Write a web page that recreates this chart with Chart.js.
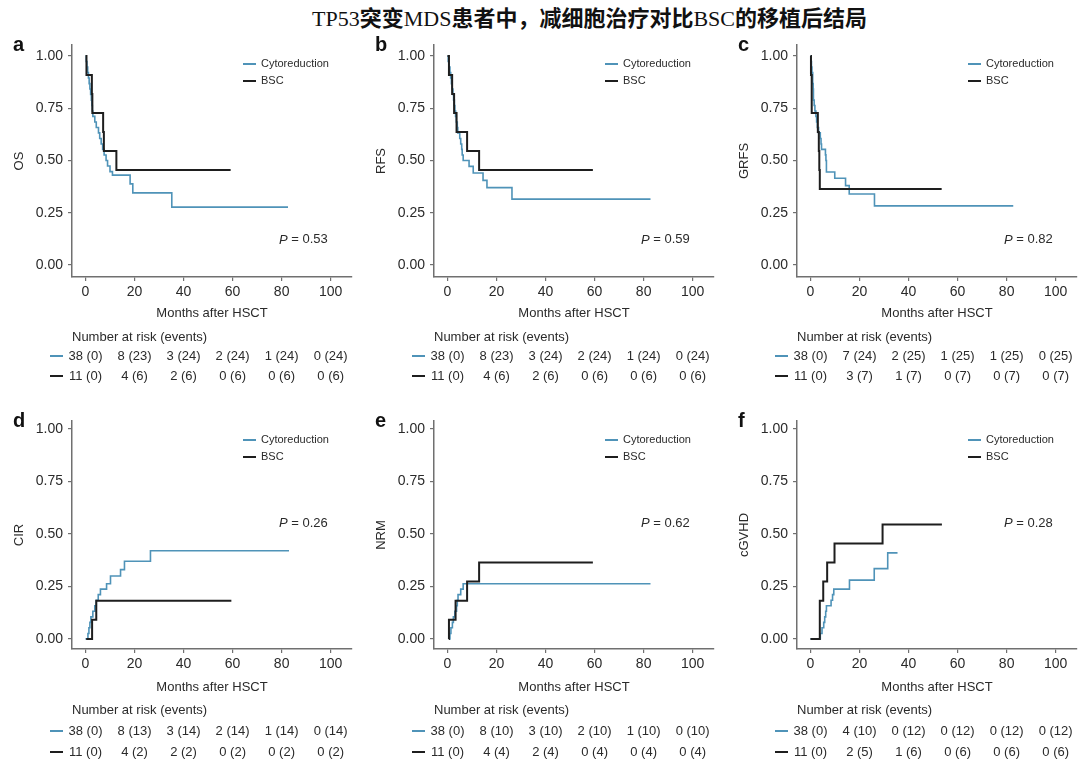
<!DOCTYPE html>
<html><head><meta charset="utf-8">
<script src="https://cdn.jsdelivr.net/npm/chart.js@4.4.1/dist/chart.umd.min.js"></script>
<style>
html,body{margin:0;padding:0;background:#fff;width:1080px;height:765px;overflow:hidden;position:relative}
canvas{position:absolute}
#title{position:absolute;left:312px;top:1px;white-space:nowrap;color:#111;font-family:"Noto Sans CJK SC","Liberation Serif";font-size:22px;font-weight:bold;line-height:30px}
#title .lat{font-family:"Liberation Serif";font-weight:normal}
</style></head><body>
<div id="title"><span class="lat">TP53</span>突变<span class="lat">MDS</span>患者中，减细胞治疗对比<span class="lat">BSC</span>的移植后结局</div>
<canvas id="pa" width="360" height="360" style="left:0px;top:30px"></canvas>
<canvas id="pb" width="360" height="360" style="left:362px;top:30px"></canvas>
<canvas id="pc" width="355" height="360" style="left:725px;top:30px"></canvas>
<canvas id="pd" width="360" height="365" style="left:0px;top:400px"></canvas>
<canvas id="pe" width="360" height="365" style="left:362px;top:400px"></canvas>
<canvas id="pf" width="355" height="365" style="left:725px;top:400px"></canvas>
<script>
// ---------- DATA ----------
const groups = ['Cytoreduction', 'BSC'];
const xTicks = [0, 20, 40, 60, 80, 100];
const yTicks = [0, 0.25, 0.5, 0.75, 1];

// a: OS
const osCytoT = [0,0.3,0.6,0.9,1.2,1.5,1.8,2.1,2.4,2.6,2.8,3.0,3.8,4.4,5.3,5.8,6.4,7.0,7.6,8.4,9.0,10.0,11.0,18.2,19.3,35.2,82.6];
const osCytoS = [1,.974,.947,.921,.895,.868,.842,.816,.789,.763,.737,.711,.684,.658,.632,.605,.579,.553,.526,.500,.474,.447,.430,.388,.345,.277,.277];
const osBscT = [0,0.4,2.6,2.8,7.2,7.5,12.6,59.2];
const osBscS = [1,.909,.818,.727,.636,.545,.4545,.4545];
const osRiskCytoN = [38,8,3,2,1,0], osRiskCytoE = [0,23,24,24,24,24];
const osRiskBscN = [11,4,2,0,0,0], osRiskBscE = [0,6,6,6,6,6];

// b: RFS
const rfsCytoT = [0,0.3,0.6,1.0,1.3,1.6,1.9,2.2,2.5,2.8,3.0,3.3,3.6,4.0,4.2,5.0,5.4,5.8,6.0,6.4,8.8,10.5,14.5,16.1,26.3,82.8];
const rfsCytoS = [1,.974,.947,.921,.895,.868,.842,.816,.789,.763,.737,.711,.684,.658,.632,.605,.579,.553,.526,.500,.472,.440,.405,.370,.315,.315];
const rfsBscT = [0,0.6,1.9,2.7,3.7,8.0,12.9,59.3];
const rfsBscS = [1,.909,.818,.727,.636,.545,.4545,.4545];
const rfsRiskCytoN = [38,8,3,2,1,0], rfsRiskCytoE = [0,23,24,24,24,24];
const rfsRiskBscN = [11,4,2,0,0,0], rfsRiskBscE = [0,6,6,6,6,6];

// c: GRFS
const grfsCytoT = [0,0.2,0.4,0.6,0.9,1.1,1.2,1.5,1.8,2.2,2.5,2.8,3.3,4.0,4.3,4.5,6.1,6.3,6.5,9.9,14.3,15.8,26.1,82.7];
const grfsCytoS = [1,.974,.947,.921,.868,.842,.789,.763,.737,.711,.684,.658,.632,.605,.579,.553,.527,.500,.445,.415,.380,.340,.283,.283];
const grfsBscT = [0,0.2,0.5,3.0,3.4,3.6,3.8,53.5];
const grfsBscS = [1,.909,.727,.636,.545,.4545,.364,.364];
const grfsRiskCytoN = [38,7,2,1,1,0], grfsRiskCytoE = [0,24,25,25,25,25];
const grfsRiskBscN = [11,3,1,0,0,0], grfsRiskBscE = [0,7,7,7,7,7];

// d: CIR
const cirCytoT = [0,1.0,1.4,1.8,2.2,3.0,3.8,4.4,5.2,6.1,8.6,10.2,14.3,15.9,26.5,83.0];
const cirCytoS = [0,.026,.053,.079,.105,.132,.158,.184,.211,.237,.263,.300,.330,.370,.420,.420];
const cirBscT = [0.3,2.7,4.4,59.5];
const cirBscS = [0,.091,.182,.182];
const cirRiskCytoN = [38,8,3,2,1,0], cirRiskCytoE = [0,13,14,14,14,14];
const cirRiskBscN = [11,4,2,0,0,0], cirRiskBscE = [0,2,2,2,2,2];

// e: NRM
const nrmCytoT = [0.7,1.0,1.4,2.0,2.4,3.0,3.7,4.0,4.3,5.4,6.4,82.8];
const nrmCytoS = [0,.026,.053,.079,.105,.132,.158,.184,.211,.237,.263,.263];
const nrmBscT = [0.5,0.6,3.3,8.0,12.9,59.3];
const nrmBscS = [0,.091,.182,.273,.364,.364];
const nrmRiskCytoN = [38,8,3,2,1,0], nrmRiskCytoE = [0,10,10,10,10,10];
const nrmRiskBscN = [11,4,2,0,0,0], nrmRiskBscE = [0,4,4,4,4,4];

// f: cGVHD
const gvhdCytoT = [0,4.0,4.7,5.4,5.8,6.2,6.5,8.4,9.0,9.5,15.9,26.0,31.5,35.5];
const gvhdCytoS = [0,.026,.053,.079,.105,.132,.158,.184,.211,.237,.280,.335,.410,.410];
const gvhdBscT = [0,3.8,5.2,6.8,9.8,29.4,53.6];
const gvhdBscS = [0,.182,.273,.364,.4545,.545,.545];
const gvhdRiskCytoN = [38,4,0,0,0,0], gvhdRiskCytoE = [0,10,12,12,12,12];
const gvhdRiskBscN = [11,2,1,0,0,0], gvhdRiskBscE = [0,5,6,6,6,6];

const pValues = ['0.53','0.59','0.82','0.26','0.62','0.28'];

// ---------- STYLE / LAYOUT ----------
const BLUE = '#4f93b8', BLACK = '#1e1e1e', AXIS = '#707070', TXT = '#2a2a2a';
const FAM = '"Liberation Sans", Arial, Helvetica, sans-serif';

const panels = [
  {id:'pa', letter:'a', ytitle:'OS',    ct:osCytoT,  cs:osCytoS,  bt:osBscT,  bs:osBscS,  rc:[osRiskCytoN,osRiskCytoE],  rb:[osRiskBscN,osRiskBscE],  p:pValues[0], row:0, pr:8},
  {id:'pb', letter:'b', ytitle:'RFS',   ct:rfsCytoT, cs:rfsCytoS, bt:rfsBscT, bs:rfsBscS, rc:[rfsRiskCytoN,rfsRiskCytoE],rb:[rfsRiskBscN,rfsRiskBscE],p:pValues[1], row:0, pr:8},
  {id:'pc', letter:'c', ytitle:'GRFS',  ct:grfsCytoT,cs:grfsCytoS,bt:grfsBscT,bs:grfsBscS,rc:[grfsRiskCytoN,grfsRiskCytoE],rb:[grfsRiskBscN,grfsRiskBscE],p:pValues[2], row:0, pr:3},
  {id:'pd', letter:'d', ytitle:'CIR',   ct:cirCytoT, cs:cirCytoS, bt:cirBscT, bs:cirBscS, rc:[cirRiskCytoN,cirRiskCytoE],rb:[cirRiskBscN,cirRiskBscE],p:pValues[3], row:1, pr:8},
  {id:'pe', letter:'e', ytitle:'NRM',   ct:nrmCytoT, cs:nrmCytoS, bt:nrmBscT, bs:nrmBscS, rc:[nrmRiskCytoN,nrmRiskCytoE],rb:[nrmRiskBscN,nrmRiskBscE],p:pValues[4], row:1, pr:8},
  {id:'pf', letter:'f', ytitle:'cGVHD', ct:gvhdCytoT,cs:gvhdCytoS,bt:gvhdBscT,bs:gvhdBscS,rc:[gvhdRiskCytoN,gvhdRiskCytoE],rb:[gvhdRiskBscN,gvhdRiskBscE],p:pValues[5], row:1, pr:3}
];
const rows = [
  {padTop:15, padBottom:57, xh:56, ymin:-0.0574, ymax:1.0526, pY:0.12, risk:[60,79,99]},
  {padTop:21, padBottom:58, xh:58, ymin:-0.048,  ymax:1.038,  pY:0.55, risk:[61,82,103]}
];

const toXY = (t, s) => t.map((v, i) => ({x: v, y: s[i]}));

const decor = {
  id: 'decor',
  afterDraw(chart, args, o) {
    const p = o.panel, r = o.row;
    const {ctx, chartArea: ca} = chart;
    const xs = chart.scales.x, ys = chart.scales.y;
    ctx.save();
    // panel letter
    ctx.fillStyle = '#111';
    ctx.textAlign = 'left'; ctx.textBaseline = 'alphabetic';
    ctx.font = 'bold 20px ' + FAM;
    ctx.fillText(p.letter, ca.left - 59, ca.top + 6);
    // legend
    ctx.font = '11px ' + FAM; ctx.textBaseline = 'middle';
    chart.data.datasets.forEach((ds, i) => {
      const yy = ca.top + 19 + i * 17;
      ctx.strokeStyle = ds.borderColor; ctx.lineWidth = 2;
      ctx.beginPath(); ctx.moveTo(ca.left + 171, yy); ctx.lineTo(ca.left + 184, yy); ctx.stroke();
      ctx.fillStyle = TXT; ctx.fillText(ds.label, ca.left + 189, yy);
    });
    // p value
    const rest = ' = ' + p.p;
    ctx.font = 'italic 13px ' + FAM; const wP = ctx.measureText('P').width;
    ctx.font = '13px ' + FAM; const wR = ctx.measureText(rest).width;
    const xr = xs.getPixelForValue(98.8), yv = ys.getPixelForValue(r.pY);
    ctx.fillStyle = TXT;
    ctx.font = 'italic 13px ' + FAM; ctx.fillText('P', xr - wP - wR, yv);
    ctx.font = '13px ' + FAM; ctx.fillText(rest, xr - wR, yv);
    // risk table
    ctx.font = '13px ' + FAM; ctx.fillStyle = TXT; ctx.textAlign = 'left';
    ctx.fillText('Number at risk (events)', ca.left, ca.bottom + r.risk[0]);
    const tbl = [[p.rc, BLUE], [p.rb, BLACK]];
    tbl.forEach(([d, col], k) => {
      const yy = ca.bottom + r.risk[k + 1];
      ctx.strokeStyle = col; ctx.lineWidth = 2;
      ctx.beginPath(); ctx.moveTo(ca.left - 22, yy); ctx.lineTo(ca.left - 9, yy); ctx.stroke();
      ctx.fillStyle = TXT; ctx.textAlign = 'center';
      xTicks.forEach((t, j) => {
        ctx.fillText(d[0][j] + ' (' + d[1][j] + ')', xs.getPixelForValue(t), yy);
      });
    });
    ctx.restore();
  }
};

panels.forEach(p => {
  const r = rows[p.row];
  new Chart(document.getElementById(p.id), {
    type: 'line',
    data: {datasets: [
      {label: groups[0], data: toXY(p.ct, p.cs), borderColor: BLUE, borderWidth: 1.6, stepped: 'before', pointRadius: 0, fill: false, order: 1, borderJoinStyle: 'miter'},
      {label: groups[1], data: toXY(p.bt, p.bs), borderColor: BLACK, borderWidth: 2, stepped: 'before', pointRadius: 0, fill: false, order: 0, borderJoinStyle: 'miter'}
    ]},
    options: {
      responsive: false, animation: false, devicePixelRatio: 1,
      layout: {padding: {left: 0, right: p.pr, top: r.padTop, bottom: r.padBottom}},
      plugins: {legend: {display: false}, tooltip: {enabled: false}, decor: {panel: p, row: r}},
      scales: {
        x: {
          type: 'linear', min: -5.5, max: 108.7, bounds: 'data',
          afterBuildTicks: s => { s.ticks = xTicks.map(v => ({value: v})); },
          afterFit: s => { s.height = r.xh; },
          ticks: {font: {size: 14, family: FAM}, color: TXT, padding: 3, maxRotation: 0, autoSkip: false},
          grid: {display: true, drawOnChartArea: false, drawTicks: true, tickLength: 4, color: AXIS, lineWidth: 1.2},
          border: {display: true, color: AXIS, width: 1.5},
          title: {display: true, text: 'Months after HSCT', font: {size: 13, family: FAM}, color: TXT, padding: {top: 0, bottom: 12}}
        },
        y: {
          type: 'linear', min: r.ymin, max: r.ymax, bounds: 'data',
          afterBuildTicks: s => { s.ticks = yTicks.map(v => ({value: v})); },
          afterFit: s => { s.width = 72; },
          ticks: {font: {size: 14, family: FAM}, color: TXT, padding: 5, callback: v => Number(v).toFixed(2), autoSkip: false},
          grid: {display: true, drawOnChartArea: false, drawTicks: true, tickLength: 4, color: AXIS, lineWidth: 1.2},
          border: {display: true, color: AXIS, width: 1.5},
          title: {display: true, text: p.ytitle, font: {size: 13, family: FAM}, color: TXT, padding: {top: 12, bottom: 0}}
        }
      }
    },
    plugins: [decor]
  });
});
</script>
</body></html>
